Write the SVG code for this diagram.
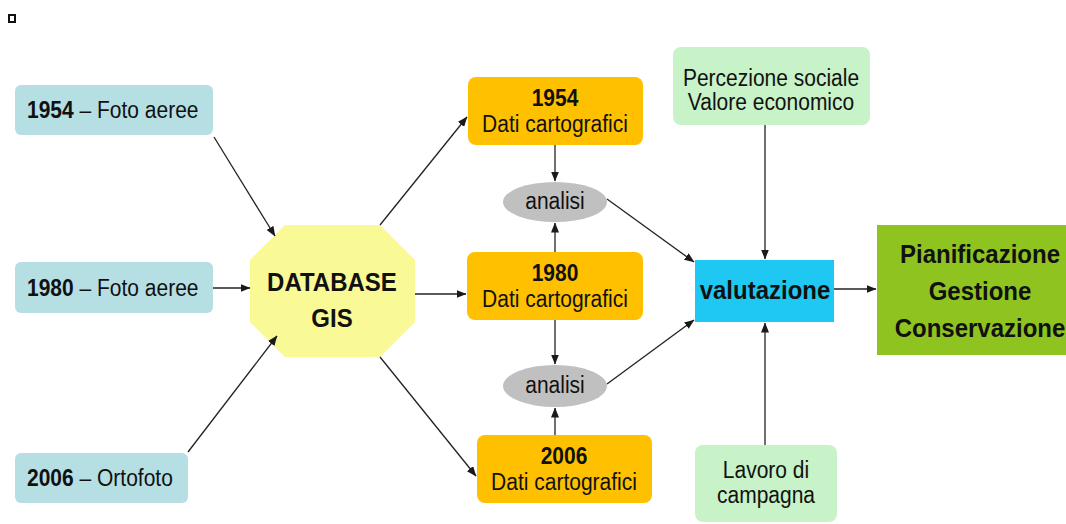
<svg xmlns="http://www.w3.org/2000/svg" width="1066" height="524" viewBox="0 0 1066 524">
  <defs>
    <marker id="arrow" markerWidth="10" markerHeight="8" refX="9.5" refY="4" orient="auto" markerUnits="userSpaceOnUse">
      <path d="M0,0 L10,4 L0,8 Z" fill="#1a1a1a"/>
    </marker>
    <style>
      text { font-family: "Liberation Sans", Arial, sans-serif; fill: #111; }
      .src { fill: #b6dfe3; }
      .map { fill: #ffc000; }
      .ext { fill: #c8f2c8; }
      .ana { fill: #c0c0c0; }
      .lbl { font-size: 21px; }
      .big { font-size: 24px; font-weight: bold; }
      .b { font-weight: bold; }
      .mid { text-anchor: middle; }
      .edge { stroke: #222; stroke-width: 1.3; fill: none; marker-end: url(#arrow); }
    </style>
  </defs>
  <rect width="1066" height="524" fill="#ffffff"/>

  <!-- small marker square, top left -->
  <rect x="9" y="15" width="6" height="7" fill="#ffffff" stroke="#111" stroke-width="2"/>

  <!-- labels are stretched 10% vertically about their baseline -->
  <!-- source imagery -->
  <g id="src-1954">
    <rect class="src" x="15" y="85" width="198" height="50" rx="6"/>
    <text class="lbl" x="27" y="118" transform="translate(0,-11.8) scale(1,1.1)"><tspan class="b">1954</tspan> – Foto aeree</text>
  </g>
  <g id="src-1980">
    <rect class="src" x="15" y="262" width="198" height="51" rx="6"/>
    <text class="lbl" x="27" y="296" transform="translate(0,-29.6) scale(1,1.1)"><tspan class="b">1980</tspan> – Foto aeree</text>
  </g>
  <g id="src-2006">
    <rect class="src" x="15" y="453" width="173" height="50" rx="6"/>
    <text class="lbl" x="27" y="486" transform="translate(0,-48.6) scale(1,1.1)"><tspan class="b">2006</tspan> – Ortofoto</text>
  </g>

  <!-- central database -->
  <g id="database">
    <polygon points="285,225 380,225 415,260 415,322 380,357 285,357 250,322 250,260" fill="#f9f996"/>
    <text class="big mid" x="332" y="291" transform="translate(0,-29.1) scale(1,1.1)">DATABASE</text>
    <text class="big mid" x="332" y="327" transform="translate(0,-32.7) scale(1,1.1)">GIS</text>
  </g>

  <!-- cartographic layers -->
  <g id="map-1954">
    <rect class="map" x="468" y="77" width="175" height="68" rx="8"/>
    <text class="lbl b mid" x="555" y="106" transform="translate(0,-10.6) scale(1,1.1)">1954</text>
    <text class="lbl mid" x="555" y="132" transform="translate(0,-13.2) scale(1,1.1)">Dati cartografici</text>
  </g>
  <g id="map-1980">
    <rect class="map" x="467" y="252" width="176" height="68" rx="8"/>
    <text class="lbl b mid" x="555" y="281" transform="translate(0,-28.1) scale(1,1.1)">1980</text>
    <text class="lbl mid" x="555" y="307" transform="translate(0,-30.7) scale(1,1.1)">Dati cartografici</text>
  </g>
  <g id="map-2006">
    <rect class="map" x="477" y="435" width="175" height="68" rx="8"/>
    <text class="lbl b mid" x="564" y="464" transform="translate(0,-46.4) scale(1,1.1)">2006</text>
    <text class="lbl mid" x="564" y="490" transform="translate(0,-49) scale(1,1.1)">Dati cartografici</text>
  </g>

  <!-- comparisons -->
  <g id="analisi-1">
    <ellipse class="ana" cx="555" cy="202" rx="52" ry="20"/>
    <text class="lbl mid" x="555" y="209" transform="translate(0,-20.9) scale(1,1.1)">analisi</text>
  </g>
  <g id="analisi-2">
    <ellipse class="ana" cx="555" cy="386" rx="52" ry="21"/>
    <text class="lbl mid" x="555" y="393" transform="translate(0,-39.3) scale(1,1.1)">analisi</text>
  </g>

  <!-- external inputs -->
  <g id="percezione">
    <rect class="ext" x="673" y="47" width="197" height="78" rx="8"/>
    <text class="lbl mid" x="771" y="86" transform="translate(0,-8.6) scale(1,1.1)">Percezione sociale</text>
    <text class="lbl mid" x="771" y="110" transform="translate(0,-11) scale(1,1.1)">Valore economico</text>
  </g>
  <g id="lavoro">
    <rect class="ext" x="695" y="445" width="142" height="77" rx="8"/>
    <text class="lbl mid" x="766" y="478" transform="translate(0,-47.8) scale(1,1.1)">Lavoro di</text>
    <text class="lbl mid" x="766" y="503" transform="translate(0,-50.3) scale(1,1.1)">campagna</text>
  </g>

  <!-- evaluation -->
  <g id="valutazione">
    <rect x="695" y="260" width="139" height="62" fill="#1fc8f2"/>
    <text class="big mid" x="765" y="299" transform="translate(0,-29.9) scale(1,1.1)">valutazione</text>
  </g>

  <!-- outcome -->
  <g id="outcome">
    <rect x="877" y="225" width="189" height="130" fill="#8fc31f"/>
    <text class="big mid" x="980" y="263" transform="translate(0,-26.3) scale(1,1.1)">Pianificazione</text>
    <text class="big mid" x="980" y="300" transform="translate(0,-30) scale(1,1.1)">Gestione</text>
    <text class="big mid" x="980" y="337" transform="translate(0,-33.7) scale(1,1.1)">Conservazione</text>
  </g>

  <!-- connectors -->
  <g id="connectors">
    <line class="edge" x1="214" y1="137" x2="275" y2="236"/>
    <line class="edge" x1="213" y1="288" x2="250" y2="288"/>
    <line class="edge" x1="188" y1="452" x2="277" y2="336"/>
    <line class="edge" x1="380" y1="225" x2="467" y2="117"/>
    <line class="edge" x1="415" y1="294" x2="466" y2="294"/>
    <line class="edge" x1="380" y1="357" x2="476" y2="476"/>
    <line class="edge" x1="555" y1="145" x2="555" y2="181"/>
    <line class="edge" x1="555" y1="252" x2="555" y2="223"/>
    <line class="edge" x1="555" y1="320" x2="555" y2="364"/>
    <line class="edge" x1="555" y1="435" x2="555" y2="408"/>
    <line class="edge" x1="607" y1="199" x2="694" y2="262"/>
    <line class="edge" x1="607" y1="384" x2="694" y2="320"/>
    <line class="edge" x1="765" y1="125" x2="765" y2="259"/>
    <line class="edge" x1="765" y1="445" x2="765" y2="323"/>
    <line class="edge" x1="834" y1="289" x2="876" y2="289"/>
  </g>
</svg>
